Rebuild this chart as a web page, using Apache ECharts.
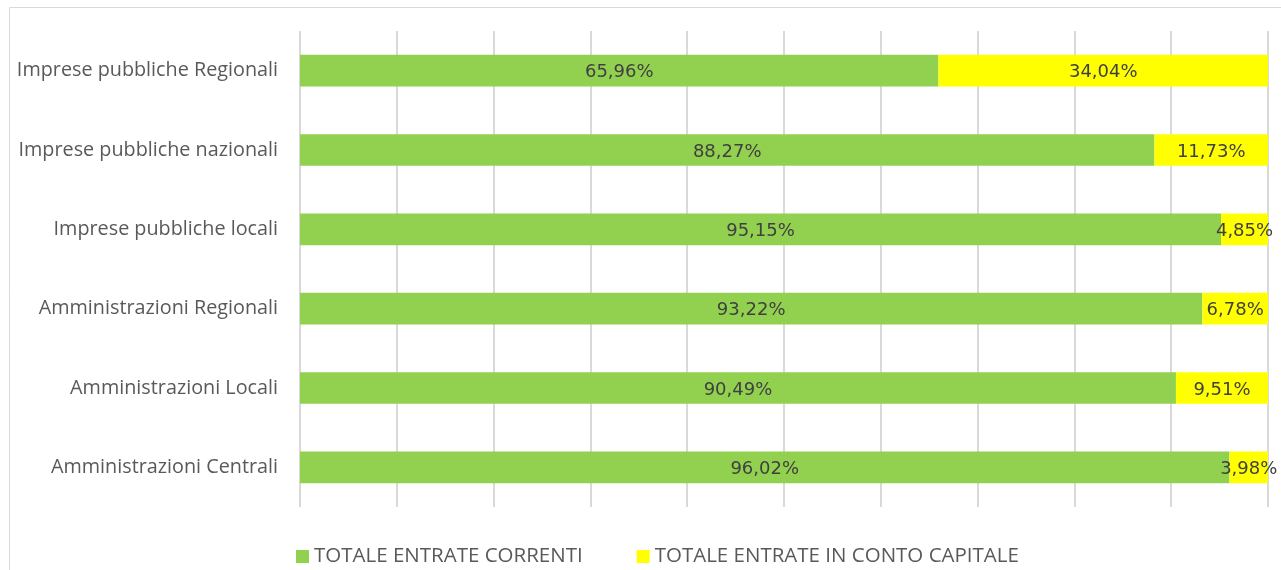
<!DOCTYPE html>
<html>
<head>
<meta charset="utf-8">
<script src="https://cdn.jsdelivr.net/npm/echarts@6/dist/echarts.min.js"></script>
<style>html,body{margin:0;padding:0;background:#fff}#c{width:1281px;height:570px}</style>
</head>
<body>
<div id="c"></div>
<script>
const categories = ["Imprese pubbliche Regionali","Imprese pubbliche nazionali","Imprese pubbliche locali","Amministrazioni Regionali","Amministrazioni Locali","Amministrazioni Centrali"];
const correnti = [65.96, 88.27, 95.15, 93.22, 90.49, 96.02];
const capitale = [34.04, 11.73, 4.85, 6.78, 9.51, 3.98];
const seriesNames = ["TOTALE ENTRATE CORRENTI", "TOTALE ENTRATE IN CONTO CAPITALE"];

const fmt = p => p.value.toFixed(2).replace('.', ',') + '%';
const font = "'Open Sans', sans-serif";
const valFont = "'DejaVu Sans', sans-serif";
const chart = echarts.init(document.getElementById('c'));
chart.setOption({
  animation: false,
  textStyle: {fontFamily: font},
  graphic: [{type:'rect', shape:{x:9.5, y:7.5, width:1300, height:600}, style:{fill:'none', stroke:'#d9d9d9', lineWidth:1}}],
  grid: {left: 300, right: 13, top: 31, bottom: 63},
  legend: {
    left: 291, top: 541, icon: 'rect', itemWidth: 13, itemHeight: 13, itemGap: 54,
    textStyle: {fontSize: 20.5, color: '#595959', fontFamily: font},
    data: seriesNames
  },
  xAxis: {
    type: 'value', min: 0, max: 100, interval: 10,
    axisLabel: {show: false}, axisLine: {show: false}, axisTick: {show: false},
    splitLine: {lineStyle: {color: '#d9d9d9', width: 2}}
  },
  yAxis: {
    type: 'category', data: categories, inverse: true,
    axisLine: {show: false}, axisTick: {show: false},
    axisLabel: {fontSize: 19.8, color: '#595959', margin: 22, fontFamily: font, padding: [3, 0, 0, 0]}
  },
  series: [
    {name: seriesNames[0], type: 'bar', stack: 't', data: correnti, barWidth: '40%',
     itemStyle: {color: '#92D050'},
     label: {show: true, position: 'inside', offset: [0, 2], formatter: fmt, color: '#404040', fontSize: 18, fontFamily: valFont}},
    {name: seriesNames[1], type: 'bar', stack: 't', data: capitale, barWidth: '40%',
     itemStyle: {color: '#FFFF00'},
     label: {show: true, position: 'inside', offset: [0, 2], formatter: fmt, color: '#404040', fontSize: 18, fontFamily: valFont}}
  ]
});
</script>
</body>
</html>
